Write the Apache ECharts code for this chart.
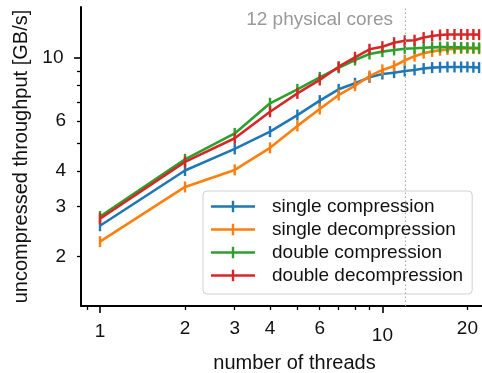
<!DOCTYPE html>
<html>
<head>
<meta charset="utf-8">
<script src="https://cdn.jsdelivr.net/npm/echarts@6/dist/echarts.min.js"></script>
<style>
  html, body { margin: 0; padding: 0; background: #fff; }
  #chart { width: 482px; height: 373px; }
</style>
</head>
<body>
<div id="chart"></div>
<script>
const threads = [1, 2, 3, 4, 5, 6, 7, 8, 9, 10, 11, 12, 13, 14, 15, 16, 17, 18, 19, 20, 21, 22]
const singleCompression = [2.57, 4.02, 4.79, 5.51, 6.30, 7.08, 7.76, 8.15, 8.55, 8.78, 8.88, 9.0, 9.08, 9.18, 9.25, 9.28, 9.3, 9.3, 9.3, 9.3, 9.28, 9.25]
const singleDecompression = [2.26, 3.52, 4.04, 4.83, 5.77, 6.62, 7.41, 7.99, 8.64, 9.08, 9.38, 9.8, 10.15, 10.4, 10.55, 10.65, 10.72, 10.78, 10.8, 10.82, 10.8, 10.78]
const doubleCompression = [2.77, 4.40, 5.43, 6.93, 7.76, 8.55, 9.24, 9.84, 10.33, 10.53, 10.67, 10.78, 10.82, 10.86, 10.9, 10.92, 10.92, 10.9, 10.9, 10.88, 10.87, 10.85]
const doubleDecompression = [2.72, 4.31, 5.22, 6.47, 7.51, 8.37, 9.32, 10.06, 10.73, 10.96, 11.32, 11.5, 11.55, 11.8, 11.95, 12.05, 12.1, 12.1, 12.1, 12.1, 12.1, 12.08]

const seriesNames = ['single compression', 'single decompression', 'double compression', 'double decompression']
const seriesColors = ['#1f77b4', '#ff7f0e', '#2ca02c', '#d62728']

const xLabels = [1, 2, 3, 4, 6, 10, 20]
const xMajor = [1, 10]
const xMinor = [0.9, 2, 3, 4, 5, 6, 7, 8, 9, 20]
const yLabels = [2, 3, 4, 6, 10]
const yMajor = [10]
const yMinor = [2, 3, 4, 5, 6, 7, 8, 9]
const physicalCores = 12

const FONT = '"Liberation Sans", Arial, sans-serif'
const lg = v => Math.log10(v)
const xRange = { min: -0.0673, max: 1.4448 }
const yRange = { min: 0.1277, max: 1.1794 }

const chart = echarts.init(document.getElementById('chart'), null, { renderer: 'canvas' })

const tickLabel = v => String(Math.round(Math.pow(10, v)))

const xAxisBase = {
  type: 'value',
  position: 'bottom',
  ...xRange,
  splitLine: { show: false },
}
const yAxisBase = {
  type: 'value',
  position: 'left',
  ...yRange,
  splitLine: { show: false },
}

const columns = [singleCompression, singleDecompression, doubleCompression, doubleDecompression]
const series = columns.map((col, i) => ({
  name: seriesNames[i],
  type: 'line',
  xAxisIndex: 0,
  yAxisIndex: 0,
  data: threads.map((n, j) => [lg(n), lg(col[j])]),
  symbol: 'path://M0,0H2V11H0Z',
  symbolSize: [2.4, 11],
  showAllSymbol: true,
  color: seriesColors[i],
  lineStyle: { width: 2.6, color: seriesColors[i] },
  itemStyle: { color: seriesColors[i] },
  emphasis: { disabled: true },
}))

series[0].markLine = {
  silent: true,
  symbol: 'none',
  animation: false,
  label: { show: false },
  lineStyle: { color: '#aaa', type: [1.5, 2.5], width: 1.2 },
  data: [{ xAxis: lg(physicalCores) }],
}

chart.setOption({
  animation: false,
  backgroundColor: '#fff',
  textStyle: { fontFamily: FONT },
  grid: { left: 81, width: 427, top: 7, height: 299, containLabel: false, outerBoundsMode: 'none' },
  legend: {
    orient: 'vertical',
    left: 203,
    top: 191,
    padding: [6, 9, 9, 8],
    itemWidth: 44,
    itemHeight: 12,
    itemGap: 4,
    backgroundColor: 'rgba(255,255,255,0.85)',
    borderColor: '#d0d0d0',
    borderWidth: 1,
    borderRadius: 4,
    icon: 'path://M0,4.5H44V7H0Z M20.8,0H23.2V11.5H20.8Z',
    textStyle: { fontFamily: FONT, fontSize: 19, color: '#111', lineHeight: 19, padding: [0, 0, 0, 12] },
    data: seriesNames,
  },
  graphic: [{
    type: 'text',
    right: 482 - 393,
    top: 10,
    style: { text: `${physicalCores} physical cores`, fontFamily: FONT, fontSize: 19, fill: '#999' },
  }],
  xAxis: [
    {
      ...xAxisBase,
      name: 'number of threads',
      nameLocation: 'middle',
      nameGap: 47,
      nameTextStyle: { fontFamily: FONT, fontSize: 20, color: '#111' },
      axisLine: { show: true, onZero: false, lineStyle: { color: '#000', width: 2 } },
      axisTick: { show: true, length: 7, customValues: xMajor.map(lg), lineStyle: { color: '#000', width: 1.6 } },
      axisLabel: {
        show: true,
        margin: 13,
        customValues: xLabels.map(lg),
        formatter: v => {
          const t = tickLabel(v)
          if (t === '1') return `{a|${t}}`
          if (t === '10') return `{b|${t}}`
          return `{c|${t}}`
        },
        rich: {
          a: { fontFamily: FONT, fontSize: 19, color: '#111', padding: [3, 0, 0, 0] },
          b: { fontFamily: FONT, fontSize: 19, color: '#111', padding: [7, 0, 0, 0] },
          c: { fontFamily: FONT, fontSize: 19, color: '#111' },
        },
      },
    },
    {
      ...xAxisBase,
      axisLine: { show: false, onZero: false },
      axisTick: { show: true, length: 4, customValues: xMinor.map(lg), lineStyle: { color: '#000', width: 1.3 } },
      axisLabel: { show: false },
    },
  ],
  yAxis: [
    {
      ...yAxisBase,
      name: 'uncompressed throughput [GB/s]',
      nameLocation: 'middle',
      nameRotate: 90,
      nameGap: 49,
      nameTextStyle: { fontFamily: FONT, fontSize: 20, color: '#111' },
      axisLine: { show: true, onZero: false, lineStyle: { color: '#000', width: 2 } },
      axisTick: { show: true, length: 7, customValues: yMajor.map(lg), lineStyle: { color: '#000', width: 1.6 } },
      axisLabel: {
        show: true,
        margin: 15,
        customValues: yLabels.map(lg),
        formatter: v => {
          const t = tickLabel(v)
          return t === '10' ? `{b|${t}}` : `{c|${t}}`
        },
        rich: {
          b: { fontFamily: FONT, fontSize: 19, color: '#111', padding: [0, 2.5, 0, 0] },
          c: { fontFamily: FONT, fontSize: 19, color: '#111' },
        },
      },
    },
    {
      ...yAxisBase,
      axisLine: { show: false, onZero: false },
      axisTick: { show: true, length: 4, customValues: yMinor.map(lg), lineStyle: { color: '#000', width: 1.3 } },
      axisLabel: { show: false },
    },
  ],
  series,
})
</script>
</body>
</html>
